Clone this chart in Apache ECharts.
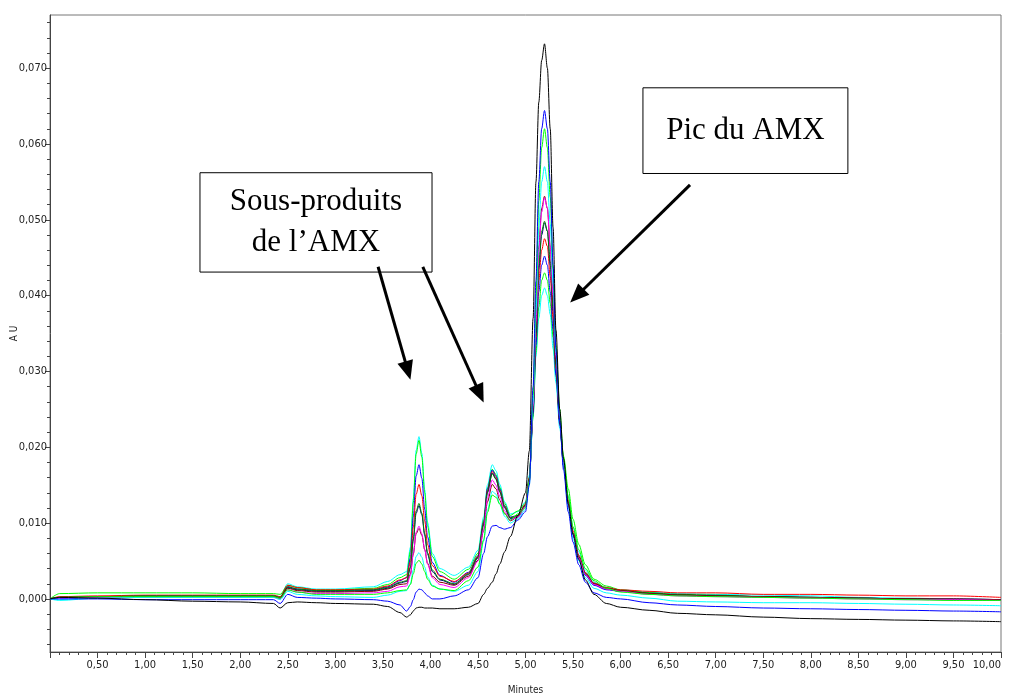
<!DOCTYPE html>
<html>
<head>
<meta charset="utf-8">
<script src="https://cdn.jsdelivr.net/npm/echarts@6/dist/echarts.min.js"></script>
<style>
  html, body { margin: 0; padding: 0; background: #fff; }
  #chart { width: 1009px; height: 695px; }
</style>
</head>
<body>
<div id="chart"></div>
<script>
// Retention times (minutes) shared by every chromatogram trace
const times = [
  0.00, 0.10, 0.50, 1.00, 1.50, 2.00, 2.35,
  2.42, 2.50, 2.60, 2.80, 3.00, 3.40, 3.55,
  3.68, 3.75, 3.79, 3.82, 3.85, 3.88, 3.91, 3.94, 3.97, 4.02, 4.10, 4.25,
  4.40, 4.50, 4.56, 4.60, 4.65, 4.69, 4.73, 4.78, 4.84, 4.92,
  5.00, 5.04, 5.08, 5.11, 5.14, 5.17, 5.20, 5.23, 5.26, 5.29, 5.32, 5.36, 5.40,
  5.45, 5.50, 5.56, 5.63, 5.72, 5.85, 6.00,
  6.30, 6.60, 7.00, 7.50, 8.00, 8.50, 9.00, 9.50, 10.00
];

// Absorbance of each injection, in mAU (converted to AU when plotted)
const black = [
  0.0, 0.2, 0.1, -0.1, -0.3, -0.4, -0.6,
  -1.2, -0.5, -0.4, -0.5, -0.6, -0.7, -1.0,
  -1.8, -2.4, -2.1, -1.6, -1.2, -1.1, -1.1, -1.2, -1.2, -1.2, -1.3, -1.3,
  -1.1, -0.6, 0.6, 1.4, 2.2, 3.3, 4.6, 6.2, 8.2, 11.0,
  14.0, 19.5, 37.0, 55.0, 65.5, 71.0, 73.2, 70.0, 62.0, 49.0, 35.5, 25.0, 18.5,
  12.5, 8.5, 5.2, 2.5, 0.6, -0.6, -1.1,
  -1.5, -1.9, -2.1, -2.4, -2.6, -2.7, -2.8, -2.9, -3.0
];
const blue1 = [
  0.0, 0.0, 0.0, -0.1, -0.1, -0.1, -0.1,
  -0.6, 0.6, 0.2, 0.1, 0.0, -0.1, -0.3,
  -0.8, -1.6, -1.0, -0.1, 0.9, 1.3, 1.2, 0.8, 0.4, 0.0, 0.0, 0.4,
  1.2, 2.8, 6.0, 8.2, 9.6, 9.7, 9.4, 9.2, 9.4, 10.4,
  11.5, 15.0, 28.0, 42.0, 55.0, 62.0, 64.4, 62.0, 55.0, 44.0, 33.0, 23.5, 17.0,
  11.5, 7.5, 4.5, 2.2, 0.8, 0.2, 0.0,
  -0.5, -0.8, -1.0, -1.2, -1.3, -1.4, -1.5, -1.6, -1.7
];
const green1 = [
  0.0, 0.2, 0.3, 0.3, 0.3, 0.3, 0.3,
  0.1, 1.2, 0.9, 0.6, 0.6, 0.6, 0.8,
  1.1, 1.2, 1.9, 3.3, 4.7, 5.1, 4.6, 3.6, 2.6, 1.7, 1.3, 1.1,
  2.4, 4.2, 7.8, 11.4, 13.7, 13.4, 12.5, 11.2, 10.4, 11.2,
  12.0, 15.5, 27.0, 40.0, 52.5, 59.5, 62.0, 59.5, 53.0, 43.5, 33.5, 25.0, 18.5,
  13.5, 9.5, 6.5, 4.0, 2.4, 1.4, 0.9,
  0.6, 0.4, 0.3, 0.2, 0.1, 0.0, -0.1, -0.2, -0.2
];
const cyan1 = [
  0.0, -0.2, 0.1, 0.2, 0.2, 0.2, 0.2,
  -0.1, 1.0, 0.6, 0.4, 0.3, 0.2, 0.5,
  1.0, 1.1, 2.0, 3.8, 5.6, 6.1, 5.5, 4.2, 2.9, 1.8, 1.3, 1.0,
  1.8, 3.6, 7.6, 11.7, 14.2, 13.8, 12.5, 10.9, 10.0, 10.6,
  11.8, 15.0, 26.0, 38.0, 49.0, 55.0, 57.0, 55.0, 49.5, 41.5, 32.5, 24.0, 17.5,
  12.0, 8.0, 5.0, 2.8, 1.4, 0.8, 0.5,
  0.1, -0.3, -0.4, -0.5, -0.5, -0.6, -0.7, -0.8, -0.9
];
const darkRed = [
  0.0, 0.2, 0.3, 0.3, 0.3, 0.3, 0.3,
  0.1, 1.4, 1.1, 0.9, 0.9, 1.0, 1.3,
  1.9, 2.0, 3.3, 5.9, 8.6, 9.3, 8.4, 6.5, 4.7, 3.0, 2.2, 1.8,
  3.0, 5.1, 9.0, 12.8, 15.1, 14.5, 13.0, 11.3, 10.3, 10.8,
  12.3, 15.5, 25.5, 36.5, 46.5, 51.5, 53.1, 51.5, 46.5, 39.5, 31.5, 23.5, 17.5,
  12.5, 8.5, 5.5, 3.3, 2.0, 1.4, 1.1,
  0.7, 0.5, 0.4, 0.3, 0.2, 0.1, 0.0, 0.0, -0.1
];
const magenta = [
  0.0, 0.1, 0.2, 0.2, 0.2, 0.2, 0.2,
  0.0, 1.2, 0.9, 0.7, 0.7, 0.8, 1.0,
  1.6, 1.7, 3.1, 6.0, 8.8, 9.6, 8.6, 6.5, 4.6, 2.8, 1.9, 1.5,
  2.8, 5.0, 9.2, 13.3, 15.7, 15.0, 13.5, 11.6, 10.4, 10.8,
  12.2, 15.5, 25.5, 36.5, 46.0, 51.0, 52.9, 51.5, 46.5, 40.0, 32.0, 24.0, 17.8,
  12.5, 8.5, 5.4, 3.2, 1.9, 1.3, 1.0,
  0.6, 0.4, 0.3, 0.2, 0.1, 0.0, -0.1, -0.1, -0.2
];
const darkGreen = [
  0.0, 0.2, 0.3, 0.4, 0.4, 0.4, 0.4,
  0.2, 1.6, 1.3, 1.1, 1.1, 1.2, 1.5,
  2.2, 2.4, 4.2, 7.9, 11.6, 12.6, 11.3, 8.6, 6.1, 3.8, 2.6, 2.0,
  3.3, 5.5, 9.8, 14.0, 16.5, 15.8, 14.1, 12.1, 10.7, 11.0,
  12.4, 15.8, 25.5, 35.5, 44.0, 48.5, 49.8, 48.5, 44.5, 38.5, 31.0, 23.5, 17.8,
  12.8, 8.7, 5.6, 3.4, 2.0, 1.4, 1.1,
  0.8, 0.6, 0.5, 0.3, 0.2, 0.1, 0.0, -0.1, -0.2
];
const navy = [
  0.0, 0.2, 0.2, 0.3, 0.3, 0.3, 0.3,
  0.1, 1.5, 1.2, 1.0, 1.0, 1.1, 1.4,
  2.1, 2.3, 4.1, 7.7, 11.3, 12.3, 11.1, 8.4, 5.9, 3.6, 2.5, 1.9,
  3.2, 5.4, 9.8, 14.1, 16.6, 15.8, 14.1, 12.0, 10.6, 10.8,
  12.3, 15.6, 25.0, 35.0, 43.5, 48.0, 49.6, 48.5, 44.0, 38.0, 31.0, 23.5, 17.6,
  12.5, 8.5, 5.5, 3.2, 1.9, 1.3, 1.0,
  0.7, 0.5, 0.4, 0.3, 0.2, 0.1, 0.0, 0.0, -0.1
];
const red = [
  0.0, 0.3, 0.4, 0.5, 0.5, 0.5, 0.5,
  0.3, 1.8, 1.5, 1.2, 1.2, 1.3, 1.7,
  2.5, 2.8, 4.9, 9.4, 13.8, 15.1, 13.6, 10.3, 7.2, 4.4, 3.0, 2.3,
  3.4, 5.6, 10.0, 14.3, 16.8, 16.0, 14.3, 12.2, 10.7, 11.0,
  12.5, 16.0, 25.0, 34.5, 42.0, 46.0, 47.5, 46.5, 42.5, 37.0, 30.5, 23.5, 18.0,
  13.0, 9.0, 5.8, 3.5, 2.1, 1.5, 1.2,
  1.0, 0.8, 0.8, 0.6, 0.6, 0.5, 0.4, 0.4, 0.2
];
const blue2 = [
  0.0, 0.2, 0.3, 0.4, 0.4, 0.4, 0.4,
  0.2, 1.6, 1.3, 1.1, 1.1, 1.2, 1.6,
  2.4, 2.8, 5.4, 10.8, 16.2, 17.7, 15.9, 11.8, 8.2, 4.8, 3.1, 2.2,
  3.5, 5.7, 10.1, 14.5, 17.0, 16.2, 14.5, 12.3, 10.8, 11.0,
  12.4, 15.8, 24.5, 33.5, 40.5, 44.0, 45.2, 44.0, 40.5, 35.5, 29.5, 23.0, 17.6,
  12.4, 8.4, 5.3, 3.1, 1.8, 1.2, 1.0,
  0.7, 0.5, 0.4, 0.3, 0.2, 0.1, 0.0, -0.1, -0.1
];
const green2 = [
  0.0, 0.7, 0.8, 0.8, 0.8, 0.7, 0.7,
  0.6, 1.8, 1.5, 1.2, 1.2, 1.4, 1.9,
  2.8, 3.2, 6.3, 12.7, 19.1, 20.9, 18.7, 14.0, 9.6, 5.6, 3.6, 2.6,
  3.9, 6.0, 10.4, 14.6, 17.1, 16.4, 14.7, 12.6, 11.0, 11.6,
  12.6, 16.0, 24.0, 32.5, 38.5, 42.0, 43.0, 42.0, 39.0, 34.5, 29.5, 23.5, 18.8,
  14.5, 10.5, 7.2, 4.5, 2.6, 1.7, 1.2,
  0.8, 0.5, 0.4, 0.3, 0.2, 0.1, 0.0, -0.1, -0.2
];
const cyan2 = [
  0.0, -0.1, 0.3, 0.4, 0.4, 0.4, 0.4,
  0.3, 2.0, 1.6, 1.3, 1.3, 1.6, 2.3,
  3.2, 3.6, 6.8, 13.2, 19.6, 21.4, 19.2, 14.4, 10.1, 6.0, 4.0, 3.1,
  4.2, 6.4, 10.8, 15.0, 17.7, 16.9, 15.1, 12.8, 11.2, 11.5,
  12.8, 16.3, 24.0, 32.0, 37.0, 40.0, 41.0, 40.0, 37.5, 33.0, 28.5, 22.5, 18.2,
  13.5, 9.5, 6.2, 3.8, 2.2, 1.5, 1.2,
  0.9, 0.7, 0.6, 0.5, 0.4, 0.2, 0.1, 0.0, -0.1
];

// Draw order and colour of each trace (last one ends up on top)
const traces = [
  { name: 'cyan2', values: cyan2, color: '#00ffff' },
  { name: 'green2', values: green2, color: '#00ff00' },
  { name: 'blue2', values: blue2, color: '#0000ff' },
  { name: 'red', values: red, color: '#ff0000' },
  { name: 'navy', values: navy, color: '#000080' },
  { name: 'darkGreen', values: darkGreen, color: '#008000' },
  { name: 'darkRed', values: darkRed, color: '#800000' },
  { name: 'magenta', values: magenta, color: '#ff00ff' },
  { name: 'cyan1', values: cyan1, color: '#00ffff' },
  { name: 'green1', values: green1, color: '#00ff00' },
  { name: 'blue1', values: blue1, color: '#0000ff' },
  { name: 'black', values: black, color: '#000000' }
];

// Axis ticks
const yLabelValues = [0, 0.01, 0.02, 0.03, 0.04, 0.05, 0.06, 0.07];
const yMinorValues = [-0.006, -0.004, -0.002, 0.002, 0.004, 0.006, 0.008, 0.012, 0.014, 0.016, 0.018,
  0.022, 0.024, 0.026, 0.028, 0.032, 0.034, 0.036, 0.038, 0.042, 0.044, 0.046, 0.048,
  0.052, 0.054, 0.056, 0.058, 0.062, 0.064, 0.066, 0.068, 0.072, 0.074, 0.076];

// Call-out boxes and arrows, anchored in data units [minutes, AU]
const boxes = [
  { lines: ['Pic du AMX'], from: [6.235, 0.0674], to: [8.39, 0.0561] },
  { lines: ['Sous-produits', 'de l\u2019AMX'], from: [1.577, 0.0562], to: [4.017, 0.0431] }
];
const arrows = [
  { from: [6.73, 0.0546], to: [5.47, 0.0391] },
  { from: [3.45, 0.0438], to: [3.79, 0.0289] },
  { from: [3.92, 0.0438], to: [4.56, 0.0259] }
];

const tickFont = "'Liberation Sans Narrow', 'DejaVu Sans Condensed', 'Arial Narrow', sans-serif";
const axisColor = '#444';

const chart = echarts.init(document.getElementById('chart'), null, { renderer: 'canvas' });

const series = traces.map(tr => ({
  name: tr.name,
  type: 'line',
  data: times.map((t, i) => [t, tr.values[i] / 1000]),
  showSymbol: false,
  smooth: 0.3,
  smoothMonotone: 'x',
  lineStyle: { color: tr.color, width: 1 },
  itemStyle: { color: tr.color },
  animation: false,
  z: 2
}));

chart.setOption({
  animation: false,
  backgroundColor: '#fff',
  grid: {
    left: 50, right: 8, top: 15, bottom: 43,
    outerBoundsMode: 'none',
    show: true, borderColor: '#777', borderWidth: 1, containLabel: false
  },
  xAxis: {
    type: 'value',
    min: 0, max: 10, interval: 0.5,
    name: 'Minutes',
    nameLocation: 'middle',
    nameGap: 33,
    nameMoveOverlap: false,
    nameTextStyle: { fontFamily: tickFont, fontSize: 10, color: '#222' },
    axisLine: { show: true, onZero: false, lineStyle: { color: axisColor, width: 1 } },
    axisTick: { show: true, inside: false, length: 6, lineStyle: { color: axisColor } },
    minorTick: { show: true, splitNumber: 5, length: 3, lineStyle: { color: axisColor } },
    splitLine: { show: false },
    axisLabel: {
      margin: 8,
      fontFamily: tickFont, fontSize: 11, color: '#222',
      showMinLabel: false,
      alignMaxLabel: 'right',
      formatter: v => (v === 0 ? '' : v.toFixed(2).replace('.', ','))
    }
  },
  yAxis: [
    {
      type: 'value',
      min: -0.007, max: 0.077,
      name: 'A U',
      nameLocation: 'middle',
      nameGap: 31,
      nameRotate: 90,
      nameMoveOverlap: false,
      nameTextStyle: { fontFamily: tickFont, fontSize: 10, color: '#222' },
      axisLine: { show: true, onZero: false, lineStyle: { color: axisColor, width: 1 } },
      axisTick: { show: true, inside: false, length: 5, customValues: yLabelValues, lineStyle: { color: axisColor } },
      splitLine: { show: false },
      axisLabel: {
        margin: 3,
        fontFamily: tickFont, fontSize: 11, color: '#222',
        customValues: yLabelValues,
        formatter: v => v.toFixed(3).replace('.', ',')
      }
    },
    {
      type: 'value',
      position: 'left',
      min: -0.007, max: 0.077,
      axisLine: { show: false },
      axisTick: { show: true, inside: false, length: 3, customValues: yMinorValues, lineStyle: { color: axisColor } },
      axisLabel: { show: false, customValues: [] },
      splitLine: { show: false }
    }
  ],
  series: series
});

// Call-outs: framed text boxes and filled arrows, placed through the axis scales
function px(p) { return chart.convertToPixel({ xAxisIndex: 0, yAxisIndex: 0 }, p); }

const graphics = [];
boxes.forEach(b => {
  const a = px(b.from), c = px(b.to);
  const x = Math.min(a[0], c[0]), y = Math.min(a[1], c[1]);
  const w = Math.abs(c[0] - a[0]), h = Math.abs(c[1] - a[1]);
  graphics.push({
    type: 'rect', shape: { x: x, y: y, width: w, height: h },
    style: { fill: '#fff', stroke: '#000', lineWidth: 1 }, z: 10
  });
  const lineH = 41;
  const top = y + h / 2 - (b.lines.length - 1) * lineH / 2;
  b.lines.forEach((txt, i) => {
    graphics.push({
      type: 'text', x: x + w / 2, y: top + i * lineH, z: 11,
      style: {
        text: txt, fill: '#000', align: 'center', verticalAlign: 'middle',
        font: "31px 'Liberation Serif', 'Times New Roman', serif"
      }
    });
  });
});
arrows.forEach(ar => {
  const s = px(ar.from), e = px(ar.to);
  const dx = e[0] - s[0], dy = e[1] - s[1];
  const len = Math.sqrt(dx * dx + dy * dy);
  const ux = dx / len, uy = dy / len;
  const headL = 19, headW = 8;
  const bx = e[0] - ux * headL, by = e[1] - uy * headL;
  graphics.push({
    type: 'line', shape: { x1: s[0], y1: s[1], x2: bx + ux * 2, y2: by + uy * 2 },
    style: { stroke: '#000', lineWidth: 3 }, z: 10
  });
  graphics.push({
    type: 'polygon',
    shape: { points: [[e[0], e[1]], [bx - uy * headW, by + ux * headW], [bx + uy * headW, by - ux * headW]] },
    style: { fill: '#000' }, z: 10
  });
});
chart.setOption({ graphic: graphics });
</script>
</body>
</html>
